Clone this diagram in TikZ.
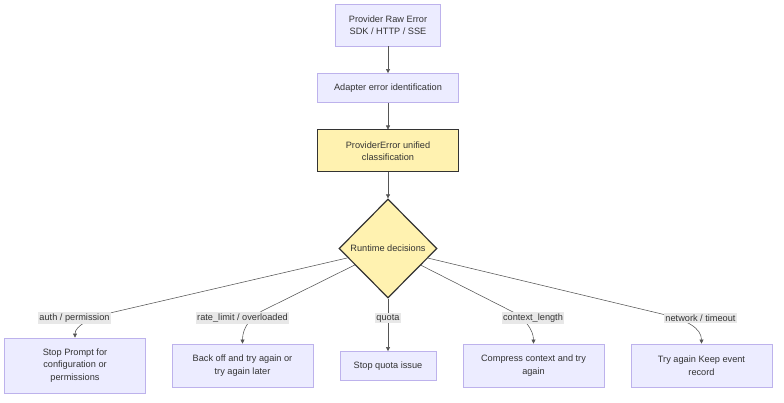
\documentclass[tikz,border=0pt]{standalone}
\usepackage{fontspec}
\setmainfont{Liberation Sans}
\usetikzlibrary{positioning, shapes.geometric, arrows.meta}
\definecolor{boxfill}{HTML}{ECECFF}
\definecolor{boxline}{HTML}{BDB2EC}
\definecolor{keyfill}{HTML}{FFF2B0}
\definecolor{keyline}{HTML}{333333}
\definecolor{edgeline}{HTML}{555555}
\definecolor{lblfill}{HTML}{E8E8E8}
\definecolor{txt}{HTML}{333333}

\begin{document}
\begin{tikzpicture}[
            x=1pt, y=-1pt,
            every node/.style={font=\fontsize{9.2}{12.5}\selectfont, text=txt},
            stepbox/.style={draw=boxline, fill=boxfill, line width=0.8pt, align=center, inner sep=0pt},
            keybox/.style={draw=keyline, fill=keyfill, line width=1pt, align=center, inner sep=0pt},
            decision/.style={diamond, draw=keyline, fill=keyfill, line width=1.2pt, minimum width=98pt, minimum height=99pt, inner sep=0pt},
            lbl/.style={fill=lblfill, inner sep=1.5pt},
            flow/.style={draw=edgeline, line width=0.55pt, -{Triangle[length=4pt, width=4pt]}}
        ]
            \useasboundingbox (0,0) rectangle (784,403);

            % main chain
            \node[stepbox, minimum width=105pt, minimum height=42pt] (raw) at (388,25) {Provider Raw Error\\SDK / HTTP / SSE};
            \node[stepbox, minimum width=141pt, minimum height=29pt] (adapter) at (388,88) {Adapter error identification};
            \node[keybox, minimum width=141pt, minimum height=42pt] (unified) at (388,151) {ProviderError unified\\classification};
            \node[decision] (runtime) at (388,248.5) {Runtime decisions};

            % outcomes
            \node[stepbox, minimum width=141pt, minimum height=55pt] (stopcfg) at (75,365.5) {Stop Prompt for\\configuration or\\permissions};
            \node[stepbox, minimum width=141pt, minimum height=43pt] (backoff) at (242.5,365.5) {Back off and try again or\\try again later};
            \node[stepbox, minimum width=96pt, minimum height=29pt] (stopquota) at (388,366) {Stop quota issue};
            \node[stepbox, minimum width=141pt, minimum height=43pt] (compress) at (533.5,365.5) {Compress context and try\\again};
            \node[stepbox, minimum width=141pt, minimum height=43pt] (keeprec) at (701.5,365.5) {Try again Keep event\\record};

            % bends behind the labels
            \coordinate (kauth) at (110,313);
            \coordinate (krate) at (262,311);
            \coordinate (kctx) at (513,312);
            \coordinate (knet) at (666,315);

            % links
            \draw[flow] (raw) -- (adapter);
            \draw[flow] (adapter) -- (unified);
            \draw[flow] (unified) -- (runtime);
            \draw[flow] (runtime) -- (kauth) .. controls (90,318) and (75,326) .. (stopcfg.north);
            \draw[flow] (runtime) -- (krate) .. controls (250,318) and (242.5,328) .. (backoff.north);
            \draw[flow] (runtime) -- (stopquota);
            \draw[flow] (runtime) -- (kctx) .. controls (525,319) and (533.5,330) .. (compress.north);
            \draw[flow] (runtime) -- (knet) .. controls (686,320) and (701.5,328) .. (keeprec.north);

            % edge labels
            \node[lbl] (lauth) at (74.5,318) {auth / permission};
            \node[lbl] (lrate) at (242.5,318) {rate\_limit / overloaded};
            \node[lbl] (lquota) at (388,318) {quota};
            \node[lbl] (lctx) at (533,318) {context\_length};
            \node[lbl] (lnet) at (700.5,318) {network / timeout};
          \end{tikzpicture}
\end{document}
